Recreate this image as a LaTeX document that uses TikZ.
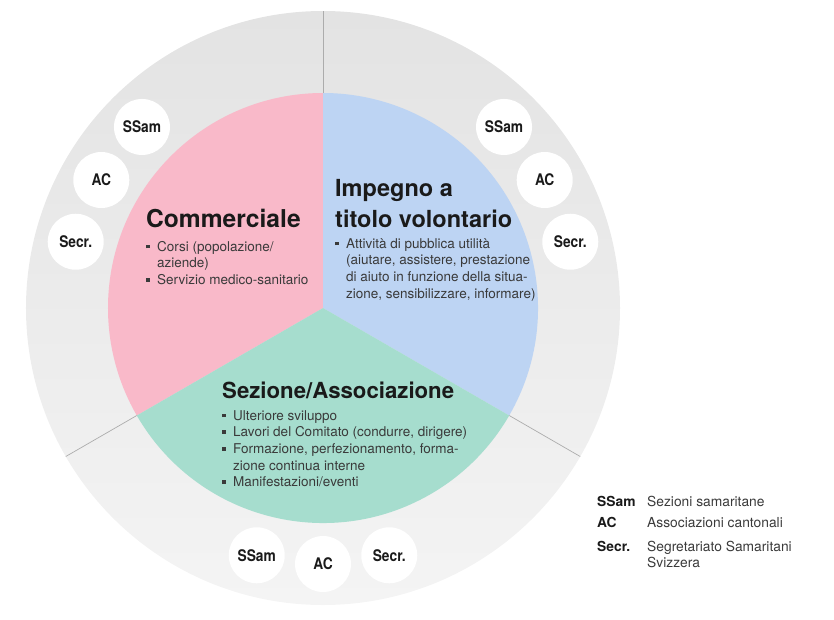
\documentclass[tikz,border=0pt]{standalone}
\usepackage{fontspec}
\setmainfont{TeX Gyre Heros}
\newfontfamily\condfont[FakeStretch=0.86]{TeX Gyre Heros}
\usetikzlibrary{positioning}
\definecolor{ringgray}{RGB}{227,227,227}
\definecolor{ringlight}{RGB}{244,244,244}
\definecolor{pinkseg}{RGB}{249,185,201}
\definecolor{blueseg}{RGB}{189,212,243}
\definecolor{greenseg}{RGB}{166,221,206}
\definecolor{divline}{RGB}{172,172,172}
\definecolor{titletext}{RGB}{26,26,26}
\definecolor{bodytext}{RGB}{58,58,58}
\newcommand{\sq}{\makebox[11pt][l]{\rule[2.8pt]{3.6pt}{3.6pt}}}
\newcommand{\ind}{\hspace*{11pt}}

\begin{document}
\begin{tikzpicture}[x=1pt, y=1pt,
    org/.style={circle, fill=white, minimum size=56pt, inner sep=0pt,
        font=\condfont\bfseries\fontsize{16}{18}\selectfont, text=titletext},
    title/.style={anchor=base west, inner sep=0pt,
        font=\bfseries\fontsize{#1}{26}\selectfont, text=titletext},
    title/.default=23.5,
    body/.style={anchor=north west, inner sep=0pt, align=left,
        font=\fontsize{13.5}{16.7}\selectfont, text=bodytext},
    key/.style={anchor=base west, inner sep=0pt,
        font=\bfseries\fontsize{13.8}{16}\selectfont, text=titletext},
    keytext/.style={anchor=base west, inner sep=0pt, align=left,
        font=\fontsize{13.8}{16}\selectfont, text=bodytext},
    divider/.style={draw=divline, line width=0.7pt}]

    \useasboundingbox (-323,-311) rectangle (511,308);
    \coordinate (c) at (0,0);

    % Outer ring
    \shade[top color=ringgray, bottom color=ringlight] (c) circle (297);
    \foreach \a in {90,210,330} { \draw[divider] (\a:215) -- (\a:297); }

    % Pie segments
    \fill[pinkseg] (c) -- (90:215) arc[start angle=90, end angle=210, radius=215] -- cycle;
    \fill[blueseg] (c) -- (-30:215) arc[start angle=-30, end angle=90, radius=215] -- cycle;
    \fill[greenseg] (c) -- (210:215) arc[start angle=210, end angle=330, radius=215] -- cycle;

    % Level circles
    \foreach \a/\t/\n in {135/SSam/l1, 150/AC/l2, 165/Secr./l3,
                          45/SSam/r1, 30/AC/r2, 15/Secr./r3,
                          255/SSam/b1, 270/AC/b2, 285/Secr./b3} {
        \node[org] (\n) at (\a:256) {\t};
    }

    % Commerciale
    \node[title=24.6] (comT) at (-177,81) {Commerciale};
    \node[body] (comB) at (-177,67) {\sq Corsi (popolazione/\\
        \ind aziende)\\
        \sq Servizio medico-sanitario};

    % Impegno a titolo volontario
    \node[title] (impT1) at (12,112) {Impegno a};
    \node[title] (impT2) at (12,81) {titolo volontario};
    \node[body] (impB) at (12,70) {\sq Attività di pubblica utilità\\
        \ind (aiutare, assistere, prestazione\\
        \ind di aiuto in funzione della situa-\\
        \ind zione, sensibilizzare, informare)};

    % Sezione/Associazione
    \node[title=22.2] (sezT) at (-101,-90) {Sezione/Associazione};
    \node[body] (sezB) at (-101,-102) {\sq Ulteriore sviluppo\\
        \sq Lavori del Comitato (condurre, dirigere)\\
        \sq Formazione, perfezionamento, forma-\\
        \ind zione continua interne\\
        \sq Manifestazioni/eventi};

    % Legend
    \node[key] (k1) at (274,-198) {SSam};
    \node[keytext] (t1) at (324,-198) {Sezioni samaritane};
    \node[key] (k2) at (274,-219) {AC};
    \node[keytext] (t2) at (324,-219) {Associazioni cantonali};
    \node[key] (k3) at (274,-243) {Secr.};
    \node[keytext, anchor=north west] (t3) at (324,-233) {Segretariato Samaritani\\Svizzera};
\end{tikzpicture}
\end{document}
